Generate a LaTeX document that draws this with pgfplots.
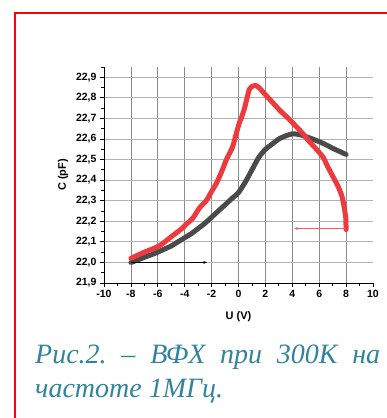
\documentclass[border=0pt]{standalone}
\usepackage{fontspec}
\setmainfont{Liberation Sans}
\newfontfamily\capfont{Liberation Serif}
\usepackage{pgfplots}
\pgfplotsset{compat=1.18}
\usetikzlibrary{arrows.meta}
\definecolor{capteal}{RGB}{49,132,155}
\definecolor{curvered}{RGB}{236,58,62}
\definecolor{curvegray}{RGB}{74,74,74}
\definecolor{arrowred}{RGB}{240,96,96}
\frenchspacing
\begin{document}
\begin{tikzpicture}
\path[use as bounding box] (0,0) rectangle (387pt,-418pt);
\draw[red, line width=2pt] (14.5pt,-420pt) -- (14.5pt,-13pt) -- (390pt,-13pt);
\begin{axis}[
  at={(104pt,-283pt)}, anchor=south west,
  scale only axis, width=269pt, height=216pt,
  xmin=-10, xmax=10, ymin=21.9, ymax=22.95,
  axis lines*=left,
  axis line style={line width=1pt, black},
  xtick={-10,-8,-6,-4,-2,0,2,4,6,8},
  xticklabels={-10,-8,-6,-4,-2,0,2,4,6,8},
  extra x ticks={10}, extra x tick labels={10},
  extra x tick style={grid=none},
  minor xtick={-9,-7,-5,-3,-1,1,3,5,7,9},
  ytick={21.9,22.0,22.1,22.2,22.3,22.4,22.5,22.6,22.7,22.8,22.9},
  yticklabels={{21,9},{22,0},{22,1},{22,2},{22,3},{22,4},{22,5},{22,6},{22,7},{22,8},{22,9}},
  minor ytick={21.95,22.05,22.15,22.25,22.35,22.45,22.55,22.65,22.75,22.85,22.95},
  tick align=outside,
  major tick length=4pt, minor tick length=2.5pt,
  tick style={black, line width=0.8pt},
  grid=major,
  major x grid style={color=black!45, line width=0.8pt},
  major y grid style={color=black!30, line width=0.9pt},
  ticklabel style={font=\fontsize{10.5}{12}\selectfont\bfseries},
  xlabel={U (V)}, ylabel={C (pF)},
  label style={font=\fontsize{11}{12}\selectfont\bfseries},
  xlabel style={at={(axis description cs:0.5,-0.157)}, anchor=center},
  ylabel style={at={(axis description cs:-0.152,0.5)}, anchor=center},
  clip=false,
]
\addplot[curvegray, line width=5pt, line join=round, line cap=round, no marks, smooth, tension=0.4] coordinates {
(-8,22.00) (-7.5,22.012) (-7,22.025) (-6.5,22.037) (-6,22.05) (-5.5,22.065) (-5,22.08) (-4.5,22.10)
(-4,22.12) (-3.5,22.14) (-3,22.165) (-2.5,22.19) (-2,22.22) (-1.5,22.25) (-1,22.28) (-0.5,22.31)
(0,22.34) (0.5,22.39) (1,22.45) (1.5,22.51) (2,22.55) (2.5,22.575) (3,22.60) (3.5,22.615)
(4,22.625) (4.5,22.622) (5,22.612) (5.5,22.60) (6,22.587) (6.5,22.572) (7,22.555) (7.5,22.54) (8,22.525)
};
\addplot[curvered, line width=5pt, line join=round, line cap=round, no marks, smooth, tension=0.4] coordinates {
(8,22.16) (7.97,22.22) (7.85,22.27) (7.7,22.32) (7.4,22.37) (7.0,22.42) (6.6,22.47) (6.3,22.51)
(5.8,22.55) (5.3,22.585) (4.8,22.625) (4.3,22.66) (3.7,22.70) (3.06,22.74) (2.5,22.78) (2.0,22.815)
(1.6,22.845) (1.3,22.86) (1.0,22.855) (0.8,22.84) (0.6,22.79) (0.45,22.75) (0.2,22.70) (0.07,22.68)
(-0.15,22.63) (-0.45,22.56) (-0.9,22.50) (-1.2,22.45) (-1.6,22.39) (-2.0,22.345) (-2.4,22.30)
(-2.9,22.265) (-3.4,22.215) (-3.9,22.185) (-4.2,22.165) (-5,22.125) (-5.9,22.08) (-7,22.05) (-7.5,22.035) (-8,22.02)
};
\addplot[black, line width=0.9pt, -{Latex[length=4pt,width=3pt]}] coordinates {(-8,22.0) (-2.3,22.0)};
\addplot[arrowred, line width=1pt, -{Latex[length=4pt,width=3pt]}] coordinates {(8,22.165) (4.1,22.165)};
\end{axis}
\node[anchor=base west, inner sep=0, text=capteal, font=\capfont\itshape\fontsize{28}{34}\selectfont] at (35pt,-363pt) {\makebox[345pt][s]{Рис.2. – ВФХ при 300К на}};
\node[anchor=base west, inner sep=0, text=capteal, font=\capfont\itshape\fontsize{28}{34}\selectfont] at (35pt,-397pt) {частоте 1МГц.};
\end{tikzpicture}
\end{document}
